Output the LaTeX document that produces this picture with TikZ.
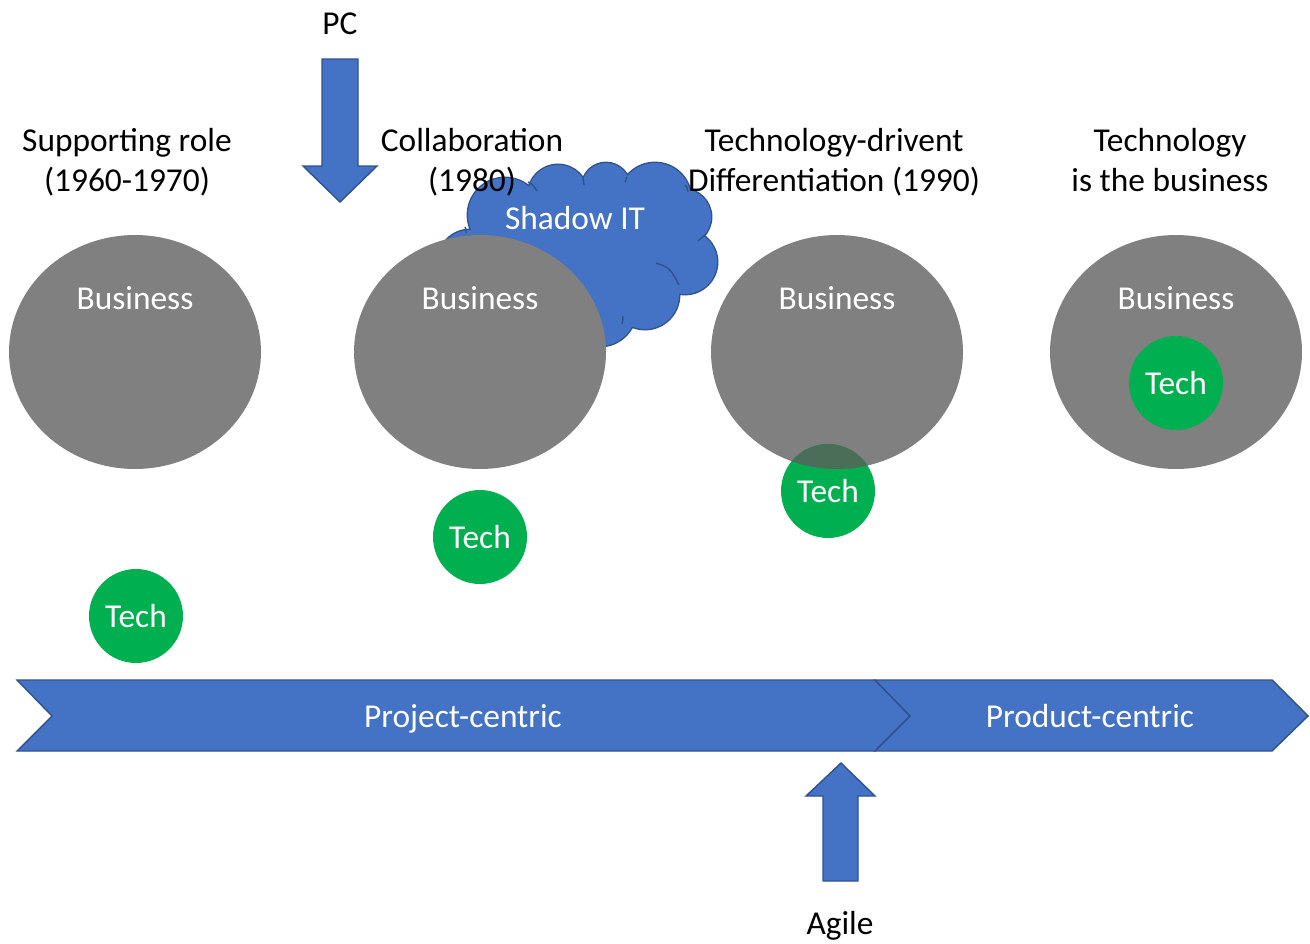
\documentclass[tikz,border=0pt]{standalone}
\usepackage{fontspec}
\setmainfont{Carlito}
\usetikzlibrary{shapes.geometric}
\definecolor{bluefill}{RGB}{68,114,196}
\definecolor{blueline}{RGB}{47,82,143}
\definecolor{bizgray}{RGB}{128,128,128}
\definecolor{techgreen}{RGB}{0,176,80}
\definecolor{overlapc}{RGB}{74,110,88}
\begin{document}
\begin{tikzpicture}[x=0.02cm,y=-0.02cm, font=\fontsize{19}{23}\selectfont,
 biz/.style={ellipse, fill=bizgray, minimum width=5.04cm, minimum height=4.68cm, inner sep=0pt},
 tech/.style={circle, fill=techgreen, minimum size=1.88cm, inner sep=0pt},
 txt/.style={inner sep=0pt, text height=0.72em, text depth=0.22em, yshift=-0.14cm},
 wt/.style={txt, text=white},
 bk/.style={txt, text=black},
 blueshape/.style={fill=bluefill, draw=blueline, line width=0.8pt, line join=miter},
 cloudline/.style={draw=blueline, line width=1.6pt},
 cloudfill/.style={fill=bluefill},
 innerarc/.style={draw=blueline, line width=0.8pt},
 ]
\useasboundingbox (0,0) rectangle (1310,943);

% cloud (Shadow IT)
\def\cloudcircles{(470,262) circle[radius=32] (505,215) circle[radius=37] (558,195) circle[radius=30] (606,187) circle[radius=24] (655,199) circle[radius=36] (683,217) circle[radius=28] (685,262) circle[radius=32] (645,295) circle[radius=34] (600,310) circle[radius=36]}
\draw[cloudline] \cloudcircles;
\fill[cloudfill] \cloudcircles;
\fill[cloudfill] (590,250) ellipse[x radius=100, y radius=65];
\draw[innerarc] (528,182) .. controls (533,185) .. (537,191);
\draw[innerarc] (583,178) .. controls (584,181) .. (584,185);
\draw[innerarc] (627,177) .. controls (626,179) .. (625,182);
\draw[innerarc] (685,185) .. controls (687,187) .. (688,192);
\draw[innerarc] (698,241) .. controls (702,238) .. (706,234);
\draw[innerarc] (656,263) .. controls (670,268) .. (679,285);
\draw[innerarc] (623,316) .. controls (623,319) .. (622,324);
\draw[innerarc] (465,227) .. controls (466,229) .. (466,233);
\node[wt] (shadow) at (575,218) {Shadow IT};

% titles
\node[bk] (t1a) at (127,140) {Supporting role};
\node[bk] (t1b) at (127,180) {(1960-1970)};
\node[bk] (t2a) at (472,140) {Collaboration};
\node[bk] (t2b) at (472,180) {(1980)};
\node[bk] (t3a) at (834,140) {Technology-drivent};
\node[bk] (t3b) at (834,180) {Differentiation (1990)};
\node[bk] (t4a) at (1170,140) {Technology};
\node[bk] (t4b) at (1170,180) {is the business};

% PC arrow
\node[bk] (pc) at (340,23) {PC};
\draw[blueshape] (322,59) -- (358,59) -- (358,166) -- (377,166) -- (340,202) -- (303,166) -- (322,166) -- cycle;

% business ellipses
\node[biz] (b1) at (135,352) {};
\node[biz] (b2) at (480,352) {};
\node[biz] (b3) at (837,352) {};
\node[biz] (b4) at (1176,352) {};
\node[wt] (b1t) at (135,298) {Business};
\node[wt] (b2t) at (480,298) {Business};
\node[wt] (b3t) at (837,298) {Business};
\node[wt] (b4t) at (1176,298) {Business};

% tech circles
\node[tech] (c1) at (136,616) {};
\node[tech] (c2) at (480,537) {};
\node[tech] (c3) at (828,491) {};
\node[tech] (c4) at (1176,383) {};
\begin{scope}
\clip (837,352) ellipse[x radius=126, y radius=117];
\fill[overlapc] (828,491) circle[radius=47];
\end{scope}
\node[wt] (c1t) at (c1) {Tech};
\node[wt] (c2t) at (c2) {Tech};
\node[wt] (c3t) at (c3) {Tech};
\node[wt] (c4t) at (c4) {Tech};

% chevrons
\draw[blueshape] (17,680) -- (875,680) -- (910,716) -- (875,751) -- (17,751) -- (52,716) -- cycle;
\draw[blueshape] (875,680) -- (1272,680) -- (1308,716) -- (1272,751) -- (875,751) -- (910,716) -- cycle;
\node[wt] (proj) at (463,716) {Project-centric};
\node[wt] (prod) at (1090,716) {Product-centric};

% Agile arrow
\draw[blueshape] (841,763) -- (875,796) -- (858,796) -- (858,881) -- (823,881) -- (823,796) -- (806,796) -- cycle;
\node[bk] (agile) at (840,923) {Agile};
\end{tikzpicture}
\end{document}
